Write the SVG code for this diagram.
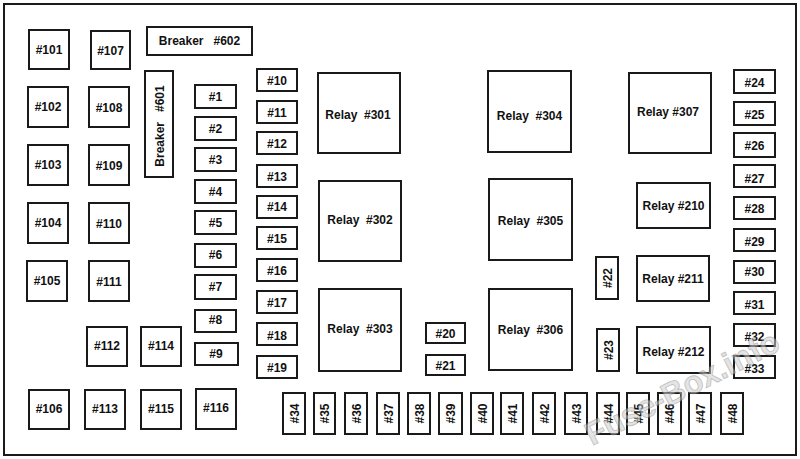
<svg xmlns="http://www.w3.org/2000/svg" width="800" height="459" viewBox="0 0 800 459">
<style>
rect{fill:#fff;stroke:#1a1a1a;stroke-width:2}
text{font-family:"Liberation Sans",Arial,sans-serif;font-weight:bold;font-size:12px;fill:#111;text-anchor:middle;white-space:pre}
.wm{font-size:32px;fill:#cfcfcf;stroke:#8a8a8a;stroke-width:0.8;text-anchor:start;opacity:0.55}
</style>
<rect x="4" y="4" width="792" height="451" stroke-width="2"/>
<g id="connectors"/>
<g id="f101"><rect x="29" y="30" width="40" height="39"/><text x="49" y="54">#101</text></g>
<g id="f107"><rect x="91" y="31" width="39" height="38"/><text x="110.5" y="55">#107</text></g>
<g id="b602"><rect x="147" y="27" width="105" height="28"/><text x="199.5" y="45">Breaker   #602</text></g>
<g id="f102"><rect x="28" y="87" width="40" height="40"/><text x="48" y="111">#102</text></g>
<g id="f108"><rect x="89" y="87" width="40" height="40"/><text x="109" y="112">#108</text></g>
<g id="b601"><rect x="145" y="71" width="28" height="106"/><text transform="translate(163.5,126) rotate(-90)">Breaker   #601</text></g>
<g id="f103"><rect x="28" y="145" width="40" height="40"/><text x="48" y="169">#103</text></g>
<g id="f109"><rect x="89" y="145" width="40" height="40"/><text x="109" y="170">#109</text></g>
<g id="f104"><rect x="28" y="203" width="40" height="40"/><text x="48" y="227">#104</text></g>
<g id="f110"><rect x="89" y="203" width="40" height="40"/><text x="109" y="228">#110</text></g>
<g id="f105"><rect x="27" y="261" width="40" height="40"/><text x="47" y="285">#105</text></g>
<g id="f111"><rect x="89" y="261" width="40" height="40"/><text x="109" y="286">#111</text></g>
<g id="f112"><rect x="87" y="327" width="40" height="39"/><text x="107" y="350">#112</text></g>
<g id="f114"><rect x="141" y="327" width="40" height="39"/><text x="161" y="350">#114</text></g>
<g id="f106"><rect x="29" y="390" width="40" height="39"/><text x="49" y="413">#106</text></g>
<g id="f113"><rect x="85" y="390" width="40" height="39"/><text x="105" y="413">#113</text></g>
<g id="f115"><rect x="141" y="390" width="40" height="39"/><text x="161" y="413">#115</text></g>
<g id="f116"><rect x="196" y="389" width="40" height="40"/><text x="216" y="412">#116</text></g>
<g id="f1"><rect x="195" y="85" width="41" height="23"/><text x="215.5" y="101">#1</text></g>
<g id="f2"><rect x="195" y="117" width="41" height="23"/><text x="215.5" y="133">#2</text></g>
<g id="f3"><rect x="195" y="148" width="41" height="23"/><text x="215.5" y="164">#3</text></g>
<g id="f4"><rect x="195" y="180" width="41" height="23"/><text x="215.5" y="196">#4</text></g>
<g id="f5"><rect x="195" y="211" width="41" height="23"/><text x="215.5" y="227">#5</text></g>
<g id="f6"><rect x="195" y="244" width="41" height="23"/><text x="215.5" y="259">#6</text></g>
<g id="f7"><rect x="195" y="275" width="41" height="24"/><text x="215.5" y="291">#7</text></g>
<g id="f8"><rect x="195" y="310" width="41" height="22"/><text x="215.5" y="324">#8</text></g>
<g id="f9"><rect x="195" y="343" width="43" height="22"/><text x="216" y="358">#9</text></g>
<g id="f10"><rect x="257" y="69" width="40" height="22"/><text x="277" y="85">#10</text></g>
<g id="f11"><rect x="257" y="101" width="40" height="22"/><text x="277" y="117">#11</text></g>
<g id="f12"><rect x="257" y="132" width="40" height="22"/><text x="277" y="148">#12</text></g>
<g id="f13"><rect x="257" y="165" width="40" height="22"/><text x="277" y="181">#13</text></g>
<g id="f14"><rect x="257" y="196" width="40" height="22"/><text x="277" y="211">#14</text></g>
<g id="f15"><rect x="257" y="227" width="40" height="22"/><text x="277" y="243">#15</text></g>
<g id="f16"><rect x="257" y="259" width="40" height="22"/><text x="277" y="275">#16</text></g>
<g id="f17"><rect x="257" y="291" width="40" height="22"/><text x="277" y="307">#17</text></g>
<g id="f18"><rect x="257" y="323" width="40" height="22"/><text x="277" y="340">#18</text></g>
<g id="f19"><rect x="257" y="356" width="40" height="22"/><text x="277" y="372">#19</text></g>
<g id="r301"><rect x="318" y="73" width="82" height="80"/><text x="358" y="119">Relay  #301</text></g>
<g id="r302"><rect x="319" y="181" width="82" height="80"/><text x="360" y="224">Relay  #302</text></g>
<g id="r303"><rect x="319" y="289" width="82" height="82"/><text x="360" y="333">Relay  #303</text></g>
<g id="f20"><rect x="426" y="323" width="39" height="20"/><text x="445.5" y="338">#20</text></g>
<g id="f21"><rect x="426" y="355" width="39" height="20"/><text x="445.5" y="370">#21</text></g>
<g id="r304"><rect x="488" y="71" width="83" height="81"/><text x="529.5" y="120">Relay  #304</text></g>
<g id="r305"><rect x="489" y="179" width="83" height="81"/><text x="530.5" y="225">Relay  #305</text></g>
<g id="r306"><rect x="489" y="289" width="83" height="81"/><text x="530.5" y="334">Relay  #306</text></g>
<g id="f22"><rect x="596" y="257" width="22" height="42"/><text transform="translate(611.5,278) rotate(-90)">#22</text></g>
<g id="f23"><rect x="597" y="329" width="22" height="42"/><text transform="translate(612.5,350) rotate(-90)">#23</text></g>
<g id="r307"><rect x="629" y="73" width="82" height="80"/><text x="668" y="116">Relay #307</text></g>
<g id="r210"><rect x="637" y="183" width="73" height="45"/><text x="673.5" y="210">Relay #210</text></g>
<g id="r211"><rect x="637" y="256" width="72" height="45"/><text x="673" y="283">Relay #211</text></g>
<g id="r212"><rect x="637" y="327" width="73" height="46"/><text x="673.5" y="356">Relay #212</text></g>
<g id="f24"><rect x="734" y="70" width="41" height="23"/><text x="754.5" y="87">#24</text></g>
<g id="f25"><rect x="734" y="102" width="41" height="23"/><text x="754.5" y="119">#25</text></g>
<g id="f26"><rect x="734" y="133" width="41" height="24"/><text x="754.5" y="150">#26</text></g>
<g id="f27"><rect x="734" y="165" width="41" height="22"/><text x="754.5" y="183">#27</text></g>
<g id="f28"><rect x="734" y="197" width="41" height="22"/><text x="754.5" y="213">#28</text></g>
<g id="f29"><rect x="734" y="229" width="41" height="22"/><text x="754.5" y="246">#29</text></g>
<g id="f30"><rect x="734" y="261" width="41" height="22"/><text x="754.5" y="276">#30</text></g>
<g id="f31"><rect x="734" y="292" width="41" height="22"/><text x="754.5" y="309">#31</text></g>
<g id="f32"><rect x="734" y="324" width="41" height="22"/><text x="754.5" y="341">#32</text></g>
<g id="f33"><rect x="734" y="356" width="41" height="22"/><text x="754.5" y="373">#33</text></g>
<g id="f34"><rect x="283" y="393" width="22" height="41"/><text transform="translate(298.5,413.5) rotate(-90)">#34</text></g>
<g id="f35"><rect x="314" y="393" width="21" height="41"/><text transform="translate(329,413.5) rotate(-90)">#35</text></g>
<g id="f36"><rect x="345" y="393" width="22" height="41"/><text transform="translate(360.5,413.5) rotate(-90)">#36</text></g>
<g id="f37"><rect x="377" y="393" width="22" height="41"/><text transform="translate(392.5,413.5) rotate(-90)">#37</text></g>
<g id="f38"><rect x="408" y="393" width="22" height="41"/><text transform="translate(423.5,413.5) rotate(-90)">#38</text></g>
<g id="f39"><rect x="439" y="393" width="23" height="41"/><text transform="translate(455,413.5) rotate(-90)">#39</text></g>
<g id="f40"><rect x="471" y="393" width="22" height="41"/><text transform="translate(486.5,413.5) rotate(-90)">#40</text></g>
<g id="f41"><rect x="501" y="393" width="22" height="41"/><text transform="translate(516.5,413.5) rotate(-90)">#41</text></g>
<g id="f42"><rect x="533" y="393" width="22" height="41"/><text transform="translate(548.5,413.5) rotate(-90)">#42</text></g>
<g id="f43"><rect x="565" y="393" width="22" height="41"/><text transform="translate(580.5,413.5) rotate(-90)">#43</text></g>
<g id="f44"><rect x="597" y="393" width="22" height="41"/><text transform="translate(612.5,413.5) rotate(-90)">#44</text></g>
<g id="f45"><rect x="627" y="393" width="22" height="41"/><text transform="translate(642.5,413.5) rotate(-90)">#45</text></g>
<g id="f46"><rect x="658" y="393" width="23" height="41"/><text transform="translate(674,413.5) rotate(-90)">#46</text></g>
<g id="f47"><rect x="689" y="393" width="22" height="41"/><text transform="translate(704.5,413.5) rotate(-90)">#47</text></g>
<g id="f48"><rect x="721" y="393" width="22" height="41"/><text transform="translate(736.5,413.5) rotate(-90)">#48</text></g>
<text class="wm" transform="translate(592,446) rotate(-27)">Fuse-Box.info</text>
</svg>
